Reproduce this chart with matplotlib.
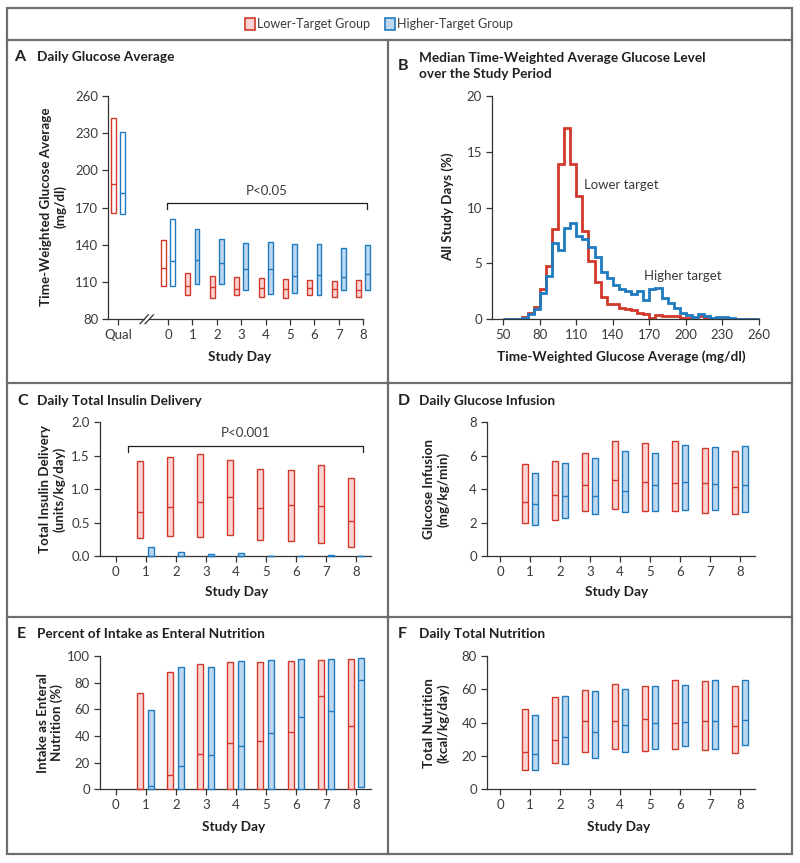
import numpy as np
import matplotlib.pyplot as plt
from matplotlib.patches import Rectangle
from matplotlib.lines import Line2D

plt.rcParams['font.family'] = ['Lato', 'DejaVu Sans']
plt.rcParams['text.color'] = '#231f20'

W, H = 800, 863
RED = '#d2382c'
RED_FILL = '#fad4d2'
BLUE = '#1f7bbf'
BLUE_FILL = '#bdd7ef'
INK = '#231f20'

days = np.arange(0, 9)
days_1_8 = np.arange(1, 9)

# ---- A: daily glucose average (qual + days 0-8), q1 / median / q3
a_low_q3 = [242, 144, 117, 114.9, 114.4, 113.3, 112.7, 111.4, 110.6, 111.7]
a_low_med = [188.8, 121.4, 106.8, 106.3, 104.7, 105, 104.7, 105.2, 104.4, 103.6]
a_low_q1 = [165.4, 107, 99.3, 97.4, 99.3, 98.2, 97.4, 99.6, 97.7, 98.2]
a_high_q3 = [231, 160.6, 153, 145, 141.5, 142.6, 140.4, 140.4, 137.7, 139.9]
a_high_med = [181.8, 127.3, 127.8, 125, 120.3, 120.8, 114.9, 115.7, 113.8, 116.2]
a_high_q1 = [164.6, 107, 108.5, 108.2, 103.6, 100.7, 101.2, 99.6, 103.6, 103.6]
a_labels = ['Qual'] + [str(d) for d in days]
QUAL_X = -2.05

# ---- B: histogram of time-weighted glucose average (5 mg/dl bins, 50-260)
b_edges = np.arange(50, 265, 5)
b_lower = [0, 0.05, 0.05, 0.25, 0.6, 1.1, 2.7, 4.8, 8.1, 13.9, 17.1, 13.9, 11.0, 7.9,
           5.2, 3.3, 2.0, 1.4, 1.4, 1.0, 0.9, 0.8, 0.6, 0.5, 0.1, 0.4, 0.3, 0.3, 0.3,
           0.1, 0.1, 0.15, 0.3, 0.1, 0.05, 0.05, 0.05, 0.05, 0.02, 0.02, 0.0, 0.0]
b_higher = [0, 0.03, 0.05, 0.15, 0.5, 0.95, 2.4, 3.85, 6.85, 6.25, 8.2, 8.65, 7.45, 7.2,
            6.45, 5.55, 4.25, 3.7, 3.1, 2.75, 2.55, 2.3, 2.5, 1.75, 2.7, 2.8, 1.95, 1.45,
            1.0, 0.6, 0.35, 0.2, 0.45, 0.3, 0.15, 0.2, 0.25, 0.1, 0.05, 0.05, 0.05, 0.03]

# ---- C: daily total insulin delivery (units/kg/day)
c_low_q3 = [1.417, 1.476, 1.531, 1.432, 1.297, 1.292, 1.367, 1.162]
c_low_med = [0.653, 0.738, 0.803, 0.883, 0.713, 0.763, 0.748, 0.529]
c_low_q1 = [0.264, 0.299, 0.279, 0.314, 0.239, 0.229, 0.200, 0.130]
c_high_q3 = [0.13, 0.06, 0.025, 0.05, 0.006, 0.006, 0.02, 0.006]
c_high_med = [0, 0, 0, 0, 0, 0, 0, 0]
c_high_q1 = [0, 0, 0, 0, 0, 0, 0, 0]

# ---- D: daily glucose infusion (mg/kg/min)
d_low_q3 = [5.49, 5.67, 6.18, 6.90, 6.78, 6.86, 6.44, 6.28]
d_low_med = [3.21, 3.65, 4.23, 4.53, 4.41, 4.37, 4.37, 4.11]
d_low_q1 = [1.96, 2.13, 2.71, 2.81, 2.67, 2.67, 2.59, 2.53]
d_high_q3 = [4.97, 5.57, 5.89, 6.28, 6.16, 6.62, 6.54, 6.60]
d_high_med = [3.11, 3.57, 3.61, 3.91, 4.23, 4.41, 4.33, 4.27]
d_high_q1 = [1.86, 2.25, 2.53, 2.61, 2.67, 2.77, 2.77, 2.63]

# ---- E: percent of intake as enteral nutrition
e_low_q3 = [72, 87.75, 94, 95.75, 95.5, 96, 97, 97.5]
e_low_med = [0, 11, 26.5, 34.5, 36.25, 43.25, 70, 47.5]
e_low_q1 = [0, 0, 0, 0, 0, 0, 0, 0]
e_high_q3 = [59.5, 92, 92, 96.5, 97, 97.5, 97.75, 98.25]
e_high_med = [2.75, 17.75, 26, 32.75, 42.5, 54, 58.5, 81.75]
e_high_q1 = [0, 0, 0, 0, 0, 0, 0, 1.5]

# ---- F: daily total nutrition (kcal/kg/day)
f_low_q3 = [48.2, 55.4, 59.4, 63.4, 61.8, 65.4, 65.2, 62.2]
f_low_med = [22.2, 29.4, 40.8, 40.8, 42.2, 39.6, 40.8, 38.2]
f_low_q1 = [11.6, 15.8, 22.2, 24.4, 22.8, 24.4, 23.8, 21.6]
f_high_q3 = [44.6, 56.2, 58.8, 60.2, 61.8, 62.8, 65.6, 65.6]
f_high_med = [21.2, 31.6, 34.4, 38.6, 39.6, 40.2, 40.8, 41.8]
f_high_q1 = [11.6, 15.0, 19.0, 22.2, 24.2, 26.0, 24.4, 26.4]


def px_axes(fig, left, top, right, bottom):
    return fig.add_axes([left / W, 1 - bottom / H, (right - left) / W, (bottom - top) / H])


def style(ax):
    for s in ('top', 'right'):
        ax.spines[s].set_visible(False)
    for s in ('left', 'bottom'):
        ax.spines[s].set_color('#333333')
        ax.spines[s].set_linewidth(0.9)
    ax.tick_params(direction='out', length=4, width=0.9, color='#333333',
                   labelsize=9.5, labelcolor='#3a3a3a', pad=3)
    ax.patch.set_alpha(0)


def boxes(ax, x, q1, med, q3, edge, fill, w=0.2):
    x = np.asarray(x, dtype=float)
    q1 = np.asarray(q1)
    q3 = np.asarray(q3)
    ax.bar(x, q3 - q1, bottom=q1, width=w, color=fill, edgecolor=edge,
           linewidth=1.0, clip_on=False, zorder=3)
    ax.hlines(med, x - w / 2, x + w / 2, color=edge, linewidth=1.0, zorder=4, clip_on=False)


def bracket(ax, x0, x1, y, drop, label, ty):
    ax.plot([x0, x0, x1, x1], [y - drop, y, y, y - drop], color=INK, lw=0.9, clip_on=False)
    ax.text((x0 + x1) / 2, ty, label, ha='center', va='center', fontsize=9.5, color='#3a3a3a')


def fig_text(x, y, s, **kw):
    fig.text(x / W, 1 - y / H, s, **kw)


def panel_title(xl, xt, y, letter, title):
    fig_text(xl, y, letter, fontsize=11.5, fontweight='bold', va='center', ha='left')
    fig_text(xt, y, title, fontsize=9.8, fontweight='bold', va='center', ha='left',
             linespacing=1.3)


def ylab(x, y, s):
    fig_text(x, y, s, fontsize=9.6, fontweight='bold', rotation=90, ha='center', va='center',
             multialignment='center', linespacing=1.2)


def xlab(x, y, s):
    fig_text(x, y, s, fontsize=9.8, fontweight='bold', ha='center', va='center')


fig = plt.figure(figsize=(W / 100, H / 100), dpi=100)
fig.patch.set_facecolor('white')

# ---- frame
frame_kw = dict(color='#6d6e70', lw=1.6, transform=fig.transFigure)
fig.add_artist(Rectangle((7 / W, 1 - 854 / H), 785 / W, 846 / H, fill=False,
                         edgecolor='#6d6e70', lw=1.6, transform=fig.transFigure))
for yy in (40, 383, 617):
    fig.add_artist(Line2D([7 / W, 792 / W], [1 - yy / H] * 2, **frame_kw))
fig.add_artist(Line2D([388 / W] * 2, [1 - 40 / H, 1 - 854 / H], **frame_kw))

# ---- legend
fig.add_artist(Rectangle((245 / W, 1 - 30 / H), 10 / W, 12 / H, facecolor=RED_FILL,
                         edgecolor=RED, lw=1.2, transform=fig.transFigure))
fig_text(257, 24, 'Lower-Target Group', fontsize=9, va='center', ha='left', color='#3a3a3a')
fig.add_artist(Rectangle((385 / W, 1 - 30 / H), 10 / W, 12 / H, facecolor=BLUE_FILL,
                         edgecolor=BLUE, lw=1.2, transform=fig.transFigure))
fig_text(397, 24, 'Higher-Target Group', fontsize=9, va='center', ha='left', color='#3a3a3a')

# ---- Panel A
axA = px_axes(fig, 108, 96, 373, 319.3)
style(axA)
xa = np.concatenate([[QUAL_X], days])
fill_low = ['white', 'white'] + [RED_FILL] * 8
fill_high = ['white', 'white'] + [BLUE_FILL] * 8
boxes(axA, xa - 0.185, a_low_q1, a_low_med, a_low_q3, RED, fill_low)
boxes(axA, xa + 0.185, a_high_q1, a_high_med, a_high_q3, BLUE, fill_high)
axA.set_xlim(-2.46, 8.4)
axA.set_ylim(80, 260)
axA.set_yticks(np.arange(80, 261, 30))
axA.set_xticks(xa)
axA.set_xticklabels(a_labels)
axA.spines['bottom'].set_visible(False)
tb = axA.get_xaxis_transform()
axA.plot([-2.46, -0.98], [0, 0], color='#333333', lw=0.9, transform=tb, clip_on=False)
axA.plot([-0.77, 8.0], [0, 0], color='#333333', lw=0.9, transform=tb, clip_on=False)
for xs in (-0.98, -0.77):
    axA.plot([xs - 0.17, xs + 0.17], [80 - 3.6, 80 + 3.6], color='#333333', lw=0.9,
             clip_on=False)
bracket(axA, -0.06, 8.14, 174, 5, 'P<0.05', 183.7)
panel_title(14, 37, 57, 'A', 'Daily Glucose Average')
ylab(53.5, 207, 'Time-Weighted Glucose Average\n(mg/dl)')
xlab(240, 357, 'Study Day')

# ---- Panel B
axB = px_axes(fig, 491.7, 96, 759.5, 319.3)
style(axB)
axB.stairs(b_lower, b_edges, color=RED, lw=2.0, baseline=0, zorder=3)
axB.stairs(b_higher, b_edges, color=BLUE, lw=2.0, baseline=0, zorder=4)
axB.set_xlim(40.5, 260.5)
axB.set_ylim(0, 20)
axB.set_xticks(np.arange(50, 261, 30))
axB.set_yticks(np.arange(0, 21, 5))
axB.spines['bottom'].set_bounds(40.5, 260)
axB.text(116.3, 12.0, 'Lower target', fontsize=9.5, va='center', ha='left', color='#3a3a3a')
axB.text(165.6, 3.9, 'Higher target', fontsize=9.5, va='center', ha='left', color='#3a3a3a')
panel_title(398, 419, 66, 'B', 'Median Time-Weighted Average Glucose Level\nover the Study Period')
ylab(448, 207, 'All Study Days (%)')
xlab(621, 357, 'Time-Weighted Glucose Average (mg/dl)')


# ---- Panels C-F
def day_panel(left, top, right, bottom, xl, lq1, lmed, lq3, hq1, hmed, hq3, ylim, yticks, fmt=None):
    ax = px_axes(fig, left, top, right, bottom)
    style(ax)
    boxes(ax, days_1_8 - 0.18, lq1, lmed, lq3, RED, RED_FILL)
    boxes(ax, days_1_8 + 0.18, hq1, hmed, hq3, BLUE, BLUE_FILL)
    ax.set_xlim(xl, 8.5)
    ax.set_ylim(*ylim)
    ax.set_xticks(days)
    ax.set_yticks(yticks)
    if fmt:
        ax.set_yticklabels([fmt.format(v) for v in yticks])
    return ax


axC = day_panel(99.5, 422.3, 371, 556, -0.54, c_low_q1, c_low_med, c_low_q3,
                c_high_q1, c_high_med, c_high_q3, (0, 2.0), np.arange(0, 2.01, 0.5), '{:.1f}')
bracket(axC, 0.4, 8.22, 1.646, 0.095, 'P<0.001', 1.836)
panel_title(17, 37, 401, 'C', 'Daily Total Insulin Delivery')
ylab(52.5, 489, 'Total Insulin Delivery\n(units/kg/day)')
xlab(237, 592, 'Study Day')

axD = day_panel(486.8, 422.3, 755, 556, -0.44, d_low_q1, d_low_med, d_low_q3,
                d_high_q1, d_high_med, d_high_q3, (0, 8), np.arange(0, 9, 2))
panel_title(398, 419, 401, 'D', 'Daily Glucose Infusion')
ylab(436, 489, 'Glucose Infusion\n(mg/kg/min)')
xlab(617, 592, 'Study Day')

axE = day_panel(99.5, 656, 371, 789.3, -0.54, e_low_q1, e_low_med, e_low_q3,
                e_high_q1, e_high_med, e_high_q3, (0, 100), np.arange(0, 101, 20))
panel_title(17, 37, 634, 'E', 'Percent of Intake as Enteral Nutrition')
ylab(50, 723, 'Intake as Enteral\nNutrition (%)')
xlab(234, 827, 'Study Day')

axF = day_panel(486.8, 656, 755, 789.3, -0.44, f_low_q1, f_low_med, f_low_q3,
                f_high_q1, f_high_med, f_high_q3, (0, 80), np.arange(0, 81, 20))
panel_title(398, 419, 634, 'F', 'Daily Total Nutrition')
ylab(436, 723, 'Total Nutrition\n(kcal/kg/day)')
xlab(619, 827, 'Study Day')

fig.savefig('out.png', dpi=100, facecolor='white')
